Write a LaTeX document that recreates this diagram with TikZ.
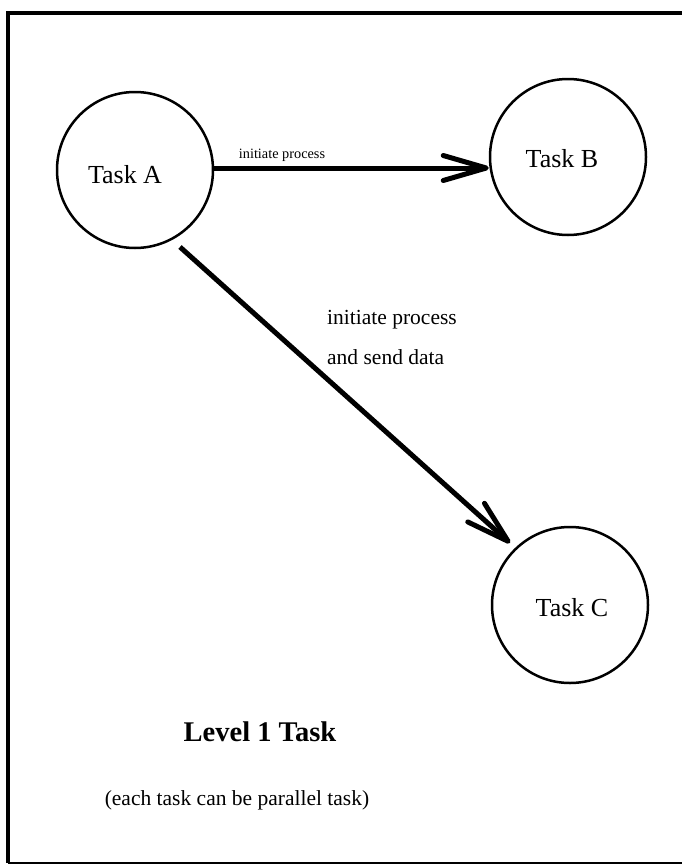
\documentclass[tikz,border=0pt]{standalone}
\usepackage{fontspec}
\setmainfont{Liberation Serif}
\usetikzlibrary{arrows.meta}
\tikzset{
  task/.style={circle, draw, line width=2.5pt, minimum size=156pt, inner sep=0pt},
  tasktext/.style={font=\fontsize{26}{31}\selectfont, inner sep=0pt},
  conn/.style={line width=5pt, -{Straight Barb[length=43pt,width=25pt,line cap=round,line join=round]}},
  frame/.style={line width=4pt},
  lbl/.style={font=\fontsize{21.5}{26}\selectfont, inner sep=0pt},
  smalllbl/.style={font=\fontsize{14.3}{17}\selectfont, inner sep=0pt},
}
\begin{document}
\begin{tikzpicture}[x=1pt, y=-1pt]
\useasboundingbox (0,0) rectangle (682,865);
% page frame: heavy top and left, thin bottom
\draw[frame] (8,13) -- (682,13);
\draw[frame] (8,11) -- (8,863);
\draw[line width=2pt] (8,863) -- (682,863);

% tasks
\node[task] (A) at (135,170) {};
\node[task] (B) at (568,157) {};
\node[task] (C) at (570,605) {};
\node[tasktext] (tA) at ([shift={(-10,5)}]A.center) {Task A};
\node[tasktext] (tB) at ([shift={(-6,2)}]B.center) {Task B};
\node[tasktext] (tC) at ([shift={(2,3)}]C.center) {Task C};

% A -> B
\coordinate (bEnd) at (B.west |- 0,168);
\coordinate (aStart) at (A.east |- 0,168);
\draw[conn] (aStart) -- (bEnd);
\node[smalllbl] (l1) at (282,155) {initiate process};

% A -> C
\coordinate (cStart) at ([shift={(45,77)}]A.center);
\coordinate (cEnd) at ([shift={(-60,-62)}]C.center);
\draw[conn] (cStart) -- (cEnd);
\node[lbl, anchor=west] (l2) at (327,320) {initiate process};
\node[lbl, anchor=west] (l3) at (327,357) {and send data};

% captions
\node[font=\bfseries\fontsize{28.5}{34}\selectfont, inner sep=0pt] (title) at (260,732) {Level 1 Task};
\node[lbl] (note) at (237,800) {(each task can be parallel task)};
\end{tikzpicture}
\end{document}
